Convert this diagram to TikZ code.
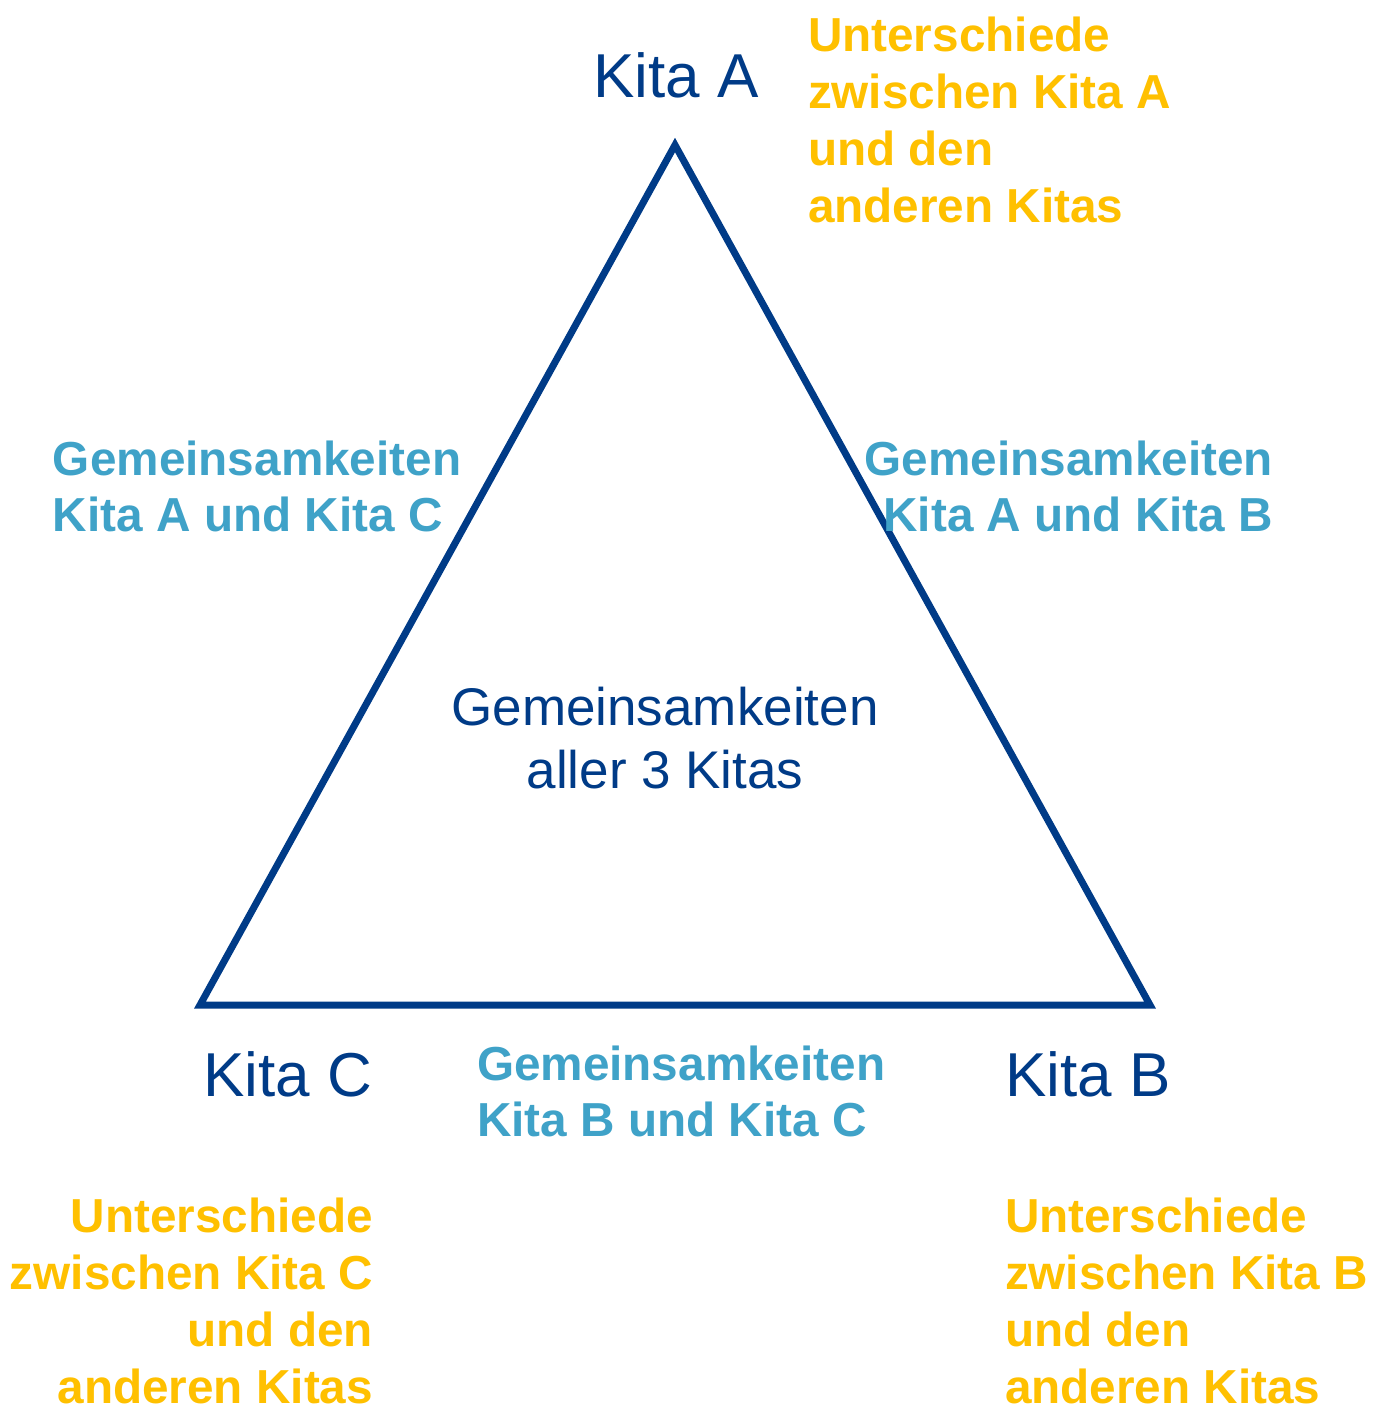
\documentclass[tikz,border=0pt]{standalone}
\usepackage{fontspec}
\setmainfont{Liberation Sans}
\definecolor{darkblue}{HTML}{003B87}
\definecolor{gold}{HTML}{FFC000}
\definecolor{lightblue}{HTML}{3FA2C8}
\begin{document}
\begin{tikzpicture}[x=0.5pt,y=-0.5pt,
  every node/.style={inner sep=0pt,outer sep=0pt},
  kita/.style={text=darkblue,font=\fontsize{31pt}{37pt}\selectfont,anchor=base west},
  diff/.style={text=gold,font=\bfseries\fontsize{23.85pt}{28.5pt}\selectfont},
  common/.style={text=lightblue,font=\bfseries\fontsize{23.85pt}{28pt}\selectfont},
  center/.style={text=darkblue,font=\fontsize{26.5pt}{31.5pt}\selectfont,align=center,anchor=base}]
\useasboundingbox (0,0) rectangle (1372,1409);
\coordinate (A) at (675,145);
\coordinate (C) at (200,1005);
\coordinate (B) at (1150,1005);
\draw[darkblue,line width=3.5pt,miter limit=10] (A) -- (B) -- (C) -- cycle;
\node[kita] (la) at (593,97) {Kita A};
\node[kita] (lc) at (203,1096) {Kita C};
\node[kita] (lb) at (1005,1096) {Kita B};
\node[center] (mid) at (665,788) {Gemeinsamkeiten\\aller 3 Kitas};
\node[diff,align=left,anchor=base west] (da) at (808,222) {Unterschiede\\zwischen Kita A\\und den\\anderen Kitas};
\node[diff,align=right,anchor=base east] (dc) at (373,1403) {Unterschiede\\zwischen Kita C\\und den\\anderen Kitas};
\node[diff,align=left,anchor=base west] (db) at (1005,1403) {Unterschiede\\zwischen Kita B\\und den\\anderen Kitas};
\node[common,align=left,anchor=base west] (cac) at (53,531) {Gemeinsamkeiten\\Kita A und Kita C};
\node[common,align=right,anchor=base east] (cab) at (1273,531) {Gemeinsamkeiten\\Kita A und Kita B};
\node[common,align=left,anchor=base west] (cbc) at (477,1136) {Gemeinsamkeiten\\Kita B und Kita C};
\end{tikzpicture}
\end{document}
